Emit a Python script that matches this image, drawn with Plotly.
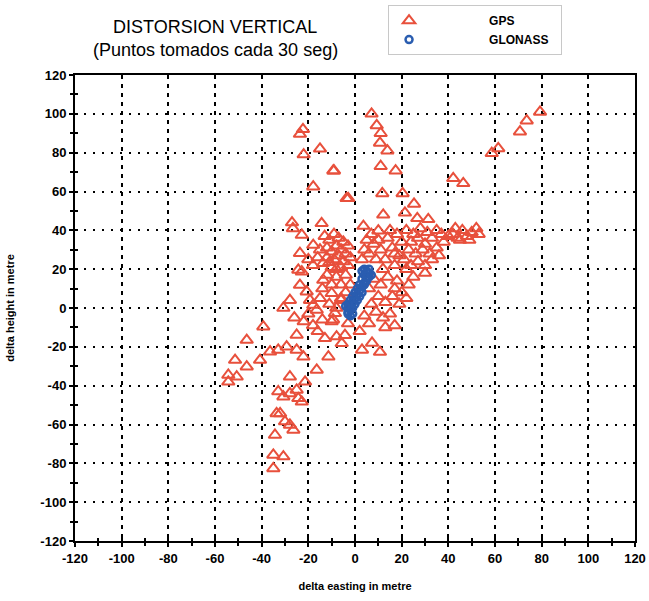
import plotly.graph_objects as go

# ---------------- data ----------------
gps_x = [
    -23.6, -22.3, -15, -22, -9.3, -17.9, -3.6, -27, -26.6, -22.8, -14.3, -17.9, -23.6, -24.3, -13.7, -11,
    -13, -11, -9, -7, -5, -12, -10, -8, -6, -4, -3, -12, -9, -7, -5, -3, -2, -10, -6,
    7.1, 9.3, 11, 10.7, 13.9, -9, 11, 17.4, -2.9, 11.7, 20.4, 25.3, 12.1, 21.4, 3.6, 10, 26.7, 31.4,
    42.1, 46.4, 58.6, 61.4, 70.7, 73.6, 79.3,
    22, 25, 28, 31, 24, 27, 30, 33, 35, 23, 26, 29, 32, 35, 38, 40, 37, 42, 44, 46, 48, 50, 52, 53,
    45, 49, 43, 36, 33, 30, 27, 24, 30, 22,
    8, 11, 14, 16, 19, 13, 17, 20, 9, 12,
    8, 11, 14, 17, 10, 13, 16, 19, 7, 9, 12, 15, 18, 20, 6, 4,
    -10, -8.6, -20.7, -19.3, -17.9, -16.4, -30.7, -27.9, -22.8, -23.6, -13.6, -6, -4, -8, -4, -2,
    -26, -22, -18, -14, -39.3, -25, -12.9, -7.9, -5.7, -46.4, -36.4, -32.9, -29.3, -25, -40.7, -51.4,
    -46.4, -54.3, -50.7, -54.3, -22.1, -27.9, -16.4, -11.4, -21.4, -32.9, -30.7, -27.9, -25, -24.3,
    -22.8, -32.1, -33.6, -30, -27.9, -26.4, -34.3, -35, -30.7, -35,
    3, 7.3, 10.7, -4.3, -9.4, 17, -6, -8, -3,
    3, 6, 5, 7, 15, 18, 17, 21, 4, 10, 23, 25, 22, 13, 6, 2,
    -15, -16, -18, -20, -8, -12, -14, -10, -6, -11, -15, -20, -10, -16,
]
gps_y = [
    89.6, 92, 82, 79, 70.7, 62.5, 56.5, 44, 41, 37.6, 43.6, 32.4, 28.2, 19.6, 23, 23.5,
    37, 35, 38, 36, 34, 31, 29, 32, 30, 28, 32, 26, 25, 27, 24, 22, 26, 21, 21,
    100, 94, 90, 85, 81, 70.7, 73, 70.7, 56.5, 59, 59, 53.6, 48, 49, 42.2, 39.8, 46.2, 45.7,
    66.8, 64.2, 79.7, 82.2, 90.8, 96.5, 101,
    40, 38, 41, 39, 34, 36, 33, 36, 40, 30, 28, 30, 28, 31, 34, 37, 38, 38, 36, 40, 37, 39, 41, 38,
    35, 35, 41, 27, 25, 22, 24, 22, 18, 20,
    33, 30, 36, 31, 27, 25, 22, 34, 25, 20,
    15, 12, 16, 10, 6, 3, 6, 2, 2, -2, -5, -3, 14, 8, 10, -4,
    7.6, -2.7, 8.4, 4, 1.5, -1, 0, 4, 18.7, 11.8, 14.4, 12, 8, 16, 17, 12,
    -5, -7, -9, -6, -9.6, -13.9, -15.6, -14.7, -18.2, -16.5, -22.5, -21.6, -19.9, -21.6, -26.8, -26.8,
    -30.2, -34.5, -35.4, -38, -25.1, -35.4, -31.9, -25.1, -38, -43, -45.7, -44, -42.2, -46.5,
    -48.3, -54.3, -54.3, -58.5, -60.2, -62.8, -65.4, -75.7, -76.5, -82.6,
    -21.6, -18, -22.7, -14, -6, -9, 5, 0, -8,
    25, 28, 35, 38, 40, 38, 28, 25, 30, 35, 12, 16, 5, -10, -8, -12,
    30, 26, 22, 25, 20, 17, 10, 12, 4, 2, 5, -3, -7, -12,
]

glonass_x = [3, 5, 6, 4, 6, 3, 5, 4, 2, 3, 1, 2, 0, 1, -1, 0, -2, -1, -3, -2, -3, -1, -2, -3, -1, -2,
             0, 1, 2, 3, 4, 5, 7, 6, 4, -4, -3]
glonass_y = [19, 19, 18, 17, 16, 15, 14, 13, 12, 11, 10, 9, 8, 7, 6, 5, 4, 3, 2, 1, 0, 0, -1, -2, -3, -4,
             2, 4, 6, 8, 12, 16, 17, 20, 20, 1, -3]

tick_vals = [-120, -100, -80, -60, -40, -20, 0, 20, 40, 60, 80, 100, 120]
tick_text = ["-120", "-100", "-80", "-60", "-40", "-20", "0", "20", "40", "60", "80", "100", "120"]

title_line1 = "DISTORSION VERTICAL"
title_line2 = "(Puntos tomados cada 30 seg)"

FONT = "Liberation Sans Narrow, Arial Narrow, Liberation Sans, Arial, sans-serif"
NB = "\u00a0" * 18

fig = go.Figure()
fig.add_trace(go.Scatter(
    x=gps_x, y=gps_y, mode="markers", name=NB + "GPS",
    marker=dict(symbol="triangle-up-open", size=11, color="#e8503c", line=dict(width=2, color="#e8503c")),
))
fig.add_trace(go.Scatter(
    x=glonass_x, y=glonass_y, mode="markers", name=NB + "GLONASS" + "\u00a0" * 2,
    marker=dict(symbol="circle-open", size=7, color="#2a5db0", line=dict(width=2.5, color="#2a5db0")),
))
# helper trace on overlay axes (for inside half of the cross ticks)
fig.add_trace(go.Scatter(x=[None], y=[None], xaxis="x2", yaxis="y2", showlegend=False, hoverinfo="skip"))

axis_common = dict(
    range=[-120, 120], tickmode="array", tickvals=tick_vals, ticktext=tick_text,
    showline=True, linecolor="black", linewidth=2, mirror=True,
    ticks="outside", ticklen=4, tickwidth=2, tickcolor="black",
    minor=dict(dtick=10, ticks="outside", ticklen=3, tickwidth=1.5, tickcolor="black", showgrid=False),
    zeroline=False, showgrid=True, gridcolor="black", gridwidth=2,
    tickfont=dict(family=FONT, size=13, color="black", weight="bold"),
    automargin=False, ticklabeloverflow="allow",
)

fig.update_layout(
    width=649, height=601,
    margin=dict(l=75, r=14, t=75, b=60, autoexpand=False),
    paper_bgcolor="white", plot_bgcolor="white",
    font=dict(family=FONT, color="black"),
    xaxis=dict(**axis_common, griddash="4px,5px",
               title=dict(text="delta easting in metre", font=dict(family=FONT, size=11, weight="bold"), standoff=18)),
    yaxis=dict(**axis_common, griddash="2px,7px",
               title=dict(text="delta height in metre", font=dict(family=FONT, size=11, weight="bold"), standoff=24)),
    xaxis2=dict(overlaying="x", matches="x", range=[-120, 120], showticklabels=False, showgrid=False,
                zeroline=False, ticks="inside", ticklen=3, tickwidth=2, tickcolor="black", dtick=10, tick0=0,
                side="bottom", automargin=False),
    yaxis2=dict(overlaying="y", matches="y", range=[-120, 120], showticklabels=False, showgrid=False,
                zeroline=False, ticks="inside", ticklen=3, tickwidth=2, tickcolor="black", dtick=10, tick0=0,
                side="left", automargin=False),
    showlegend=True,
    legend=dict(x=0.559, y=1.150, xanchor="left", yanchor="top", bgcolor="white",
                bordercolor="#c8c8c8", borderwidth=1, itemwidth=30,
                font=dict(family=FONT, size=12, weight="bold", color="black"),
                tracegroupgap=0),
    annotations=[
        dict(text=title_line1, x=0.25, y=1.103, xref="paper", yref="paper", showarrow=False,
             xanchor="center", yanchor="middle", font=dict(family=FONT, size=18, color="black")),
        dict(text=title_line2, x=0.25, y=1.054, xref="paper", yref="paper", showarrow=False,
             xanchor="center", yanchor="middle", font=dict(family=FONT, size=18, color="black")),
    ],
)

# remove the default page margin so the 649x601 figure fills the window exactly
fig.write_html("out.html", config={"displayModeBar": False},
               post_script="document.body.style.margin='0';document.body.style.overflow='hidden';")
